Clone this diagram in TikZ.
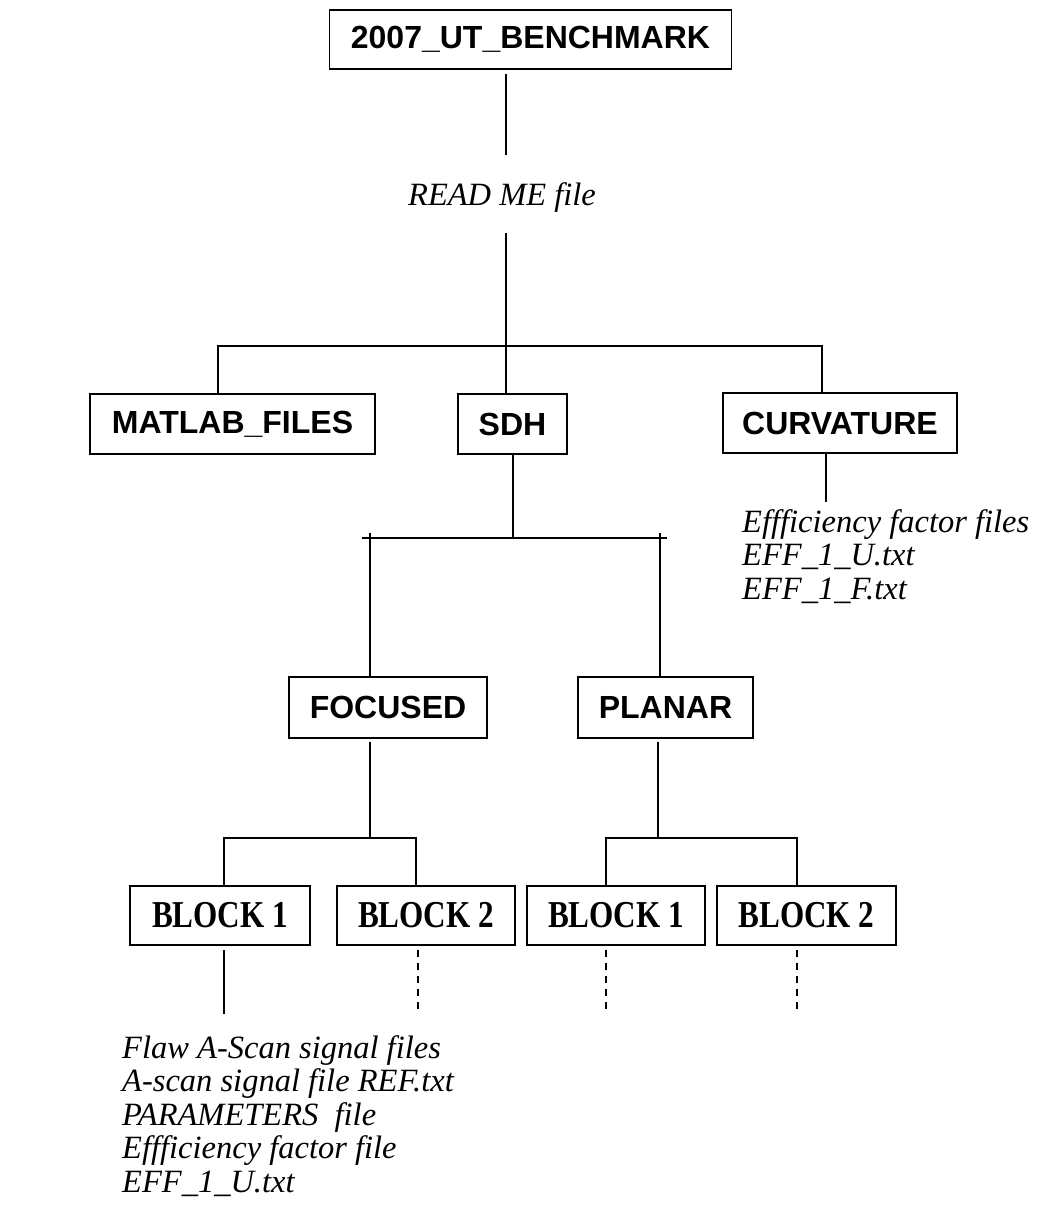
\documentclass[tikz,border=0pt]{standalone}
\usepackage{fontspec}
\usepackage{graphicx}
\setmainfont{Liberation Serif}
\newfontfamily\headfont{Liberation Sans}
\newcommand{\narrowlabel}[1]{\scalebox{0.82}[1]{#1}}
\begin{document}
\begin{tikzpicture}[x=1pt,y=-1pt,
  wire/.style={line width=1.5pt},
  dwire/.style={line width=1.5pt, dash pattern=on 7pt off 6pt},
  folder/.style={draw, line width=1.5pt, inner sep=0pt, minimum height=60pt,
    font=\headfont\bfseries\fontsize{32}{38}\selectfont},
  blockbox/.style={draw, line width=1.5pt, inner sep=0pt, minimum height=59pt,
    font=\bfseries\fontsize{38}{42}\selectfont},
  note/.style={inner sep=0pt, align=left, font=\itshape\fontsize{32.5}{33.5}\selectfont}]
\useasboundingbox (0,0) rectangle (1039,1217);

% folder boxes
\node[folder, minimum width=402pt, minimum height=59pt] (root) at (530.5,39.5) {2007\_UT\_BENCHMARK};
\node[folder, minimum width=285pt] (matlab) at (232.5,424) {MATLAB\_FILES};
\node[folder, minimum width=109pt] (sdh) at (512.5,424) {SDH};
\node[folder, minimum width=234pt] (curv) at (840,423) {CURVATURE};
\node[folder, minimum width=198pt, minimum height=61pt] (foc) at (388,707.5) {FOCUSED};
\node[folder, minimum width=175pt, minimum height=61pt] (pla) at (665.5,707.5) {PLANAR};

% block boxes
\node[blockbox, minimum width=180pt] (b11) at (220,915.5) {\narrowlabel{BLOCK 1}};
\node[blockbox, minimum width=178pt] (b12) at (426,915.5) {\narrowlabel{BLOCK 2}};
\node[blockbox, minimum width=178pt] (b21) at (616,915.5) {\narrowlabel{BLOCK 1}};
\node[blockbox, minimum width=179pt] (b22) at (806.5,915.5) {\narrowlabel{BLOCK 2}};

% file notes
\node[note, anchor=base] (readme) at (502,205) {READ ME file};
\node[note, anchor=north west] (curvnote) at (742,509)
  {Effficiency factor files\\EFF\_1\_U.txt\\EFF\_1\_F.txt};
\node[note, anchor=north west] (blocknote) at (122,1035)
  {Flaw A-Scan signal files\\A-scan signal file REF.txt\\PARAMETERS\ \ file\\Effficiency factor file\\EFF\_1\_U.txt};

% root to readme to first level
\coordinate (t0) at (506,74);
\coordinate (t1) at (506,155);
\coordinate (t2) at (506,233);
\draw[wire] (t0) -- (t1);
\draw[wire] (t2) -- (t2 |- sdh.north);
\coordinate (b1L) at (218,346);
\coordinate (b1R) at (822,346);
\draw[wire] (b1L |- matlab.north) -- (b1L) -- (b1R) -- (b1R |- curv.north);

% curvature files
\coordinate (c0) at (826,452);
\coordinate (c1) at (826,502);
\draw[wire] (c0) -- (c1);

% SDH branch
\coordinate (s0) at (513,538);
\draw[wire] (s0 |- sdh.south) -- (s0);
\coordinate (hL) at (362,538);
\coordinate (hR) at (667,538);
\draw[wire] (hL) -- (hR);
\coordinate (fA) at (370,533);
\coordinate (pA) at (660,533);
\draw[wire] (fA) -- (fA |- foc.north);
\draw[wire] (pA) -- (pA |- pla.north);

% focused branch
\coordinate (fB) at (370,742);
\coordinate (fC) at (370,838);
\draw[wire] (fB) -- (fC);
\coordinate (fL) at (224,838);
\coordinate (fR) at (416,838);
\draw[wire] (fL |- b11.north) -- (fL) -- (fR) -- (fR |- b12.north);

% planar branch
\coordinate (pB) at (658,742);
\coordinate (pC) at (658,838);
\draw[wire] (pB) -- (pC);
\coordinate (pL) at (606,838);
\coordinate (pR) at (797,838);
\draw[wire] (pL |- b21.north) -- (pL) -- (pR) -- (pR |- b22.north);

% block contents
\coordinate (d1a) at (224,950);
\coordinate (d1b) at (224,1014);
\draw[wire] (d1a) -- (d1b);
\coordinate (d2a) at (418,950);
\coordinate (d2b) at (418,1012);
\draw[dwire] (d2a) -- (d2b);
\coordinate (d3a) at (606,950);
\coordinate (d3b) at (606,1012);
\draw[dwire] (d3a) -- (d3b);
\coordinate (d4a) at (797,950);
\coordinate (d4b) at (797,1012);
\draw[dwire] (d4a) -- (d4b);
\end{tikzpicture}
\end{document}
